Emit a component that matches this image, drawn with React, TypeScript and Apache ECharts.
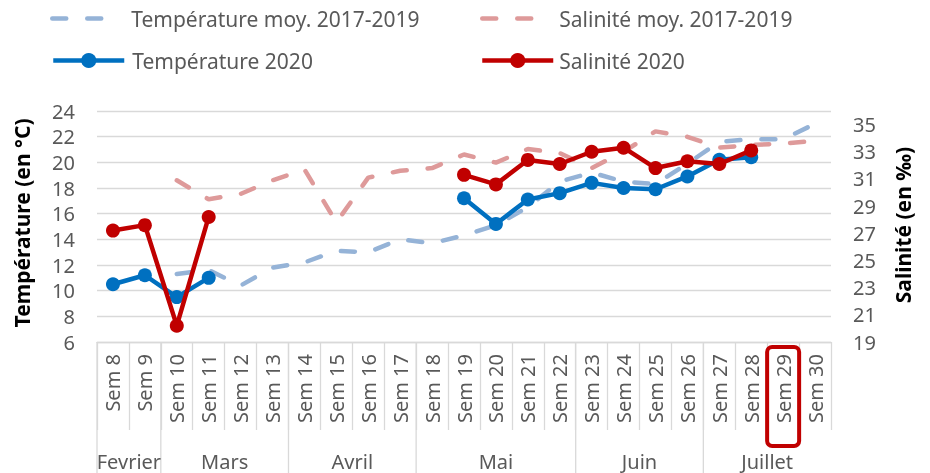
import { useEffect, useRef } from 'react';
import * as echarts from 'echarts';

const weeks = ['Sem 8', 'Sem 9', 'Sem 10', 'Sem 11', 'Sem 12', 'Sem 13', 'Sem 14', 'Sem 15', 'Sem 16', 'Sem 17', 'Sem 18', 'Sem 19', 'Sem 20', 'Sem 21', 'Sem 22', 'Sem 23', 'Sem 24', 'Sem 25', 'Sem 26', 'Sem 27', 'Sem 28', 'Sem 29', 'Sem 30'];
const monthNames = ['Fevrier', 'Mars', 'Avril', 'Mai', 'Juin', 'Juillet'];
const monthWeekCounts = [2, 4, 4, 5, 4, 4];
const highlightedWeek = 'Sem 29';

const seriesNames = ['Température moy. 2017-2019', 'Salinité moy. 2017-2019', 'Température 2020', 'Salinité 2020'];

const tempMoy = [null, null, 11.3, 11.6, 10.4, 11.8, 12.2, 13.1, 13.0, 14.0, 13.7, 14.3, 15.1, 16.5, 18.5, 19.2, 18.5, 18.3, 19.9, 21.6, 21.8, 21.8, 23.0];
const salMoy = [null, null, 30.9, 29.5, 29.9, 30.9, 31.7, 27.8, 31.1, 31.6, 31.8, 32.8, 32.2, 33.2, 32.9, 31.8, 33.0, 34.5, 34.1, 33.3, 33.5, 33.6, 33.8];
const temp2020 = [10.5, 11.2, 9.5, 11.0, null, null, null, null, null, null, null, 17.2, 15.2, 17.1, 17.6, 18.4, 18.0, 17.9, 18.9, 20.2, 20.4, null, null];
const sal2020 = [27.2, 27.6, 20.2, 28.2, null, null, null, null, null, null, null, 31.3, 30.6, 32.4, 32.1, 33.0, 33.3, 31.8, 32.3, 32.1, 33.1, null, null];

const tempTicks = { min: 6, max: 24, step: 2 };
const salTicks = { min: 19, max: 36, step: 2 };

const FONT = "'Noto Sans', sans-serif";
const GRAY = '#595959';
const GRID = '#d9d9d9';
const C_TMOY = '#95B3D7';
const C_SMOY = '#DE9A9A';
const C_T = '#0070C0';
const C_S = '#C00000';

export default function App() {
  const ref = useRef<HTMLDivElement>(null);
  useEffect(() => {
    if (!ref.current) return;
    const chart = echarts.init(ref.current, null, { renderer: 'svg' });
    const legendBase = {
      selectedMode: false,
      orient: 'horizontal',
      padding: 0,
    };
    const option: any = {
      animation: false,
      textStyle: { fontFamily: FONT },
      grid: { left: 97, right: 99, top: 111, bottom: 131, containLabel: false, outerBoundsMode: 'none' },
      legend: [
        { ...legendBase, data: [seriesNames[0]], left: 50, top: 8, itemWidth: 58, itemHeight: 16,
          lineStyle: { width: 4.5 },
          textStyle: { fontSize: 21, color: GRAY, fontFamily: FONT, padding: [0, 0, 0, 16] } },
        { ...legendBase, data: [seriesNames[1]], left: 480, top: 8, itemWidth: 58, itemHeight: 16,
          lineStyle: { width: 4.5 },
          textStyle: { fontSize: 21, color: GRAY, fontFamily: FONT, padding: [0, 0, 0, 14] } },
        { ...legendBase, data: [seriesNames[2]], left: 51, top: 50, itemWidth: 71, itemHeight: 19,
          lineStyle: { width: 4.5 },
          textStyle: { fontSize: 21, color: GRAY, fontFamily: FONT, padding: [0, 0, 0, 3] } },
        { ...legendBase, data: [seriesNames[3]], left: 480, top: 50, itemWidth: 71, itemHeight: 19,
          lineStyle: { width: 4.5 },
          textStyle: { fontSize: 21, color: GRAY, fontFamily: FONT, padding: [0, 0, 0, 1] } },
      ],
      xAxis: {
        type: 'category',
        data: weeks,
        boundaryGap: true,
        axisLine: { show: true, lineStyle: { color: GRID, width: 1.3 } },
        axisTick: { show: true, interval: 0, length: 88, lineStyle: { color: GRID, width: 1.3 } },
        axisLabel: { interval: 0, rotate: 90, margin: 12, fontSize: 20, color: GRAY, fontFamily: FONT },
        splitLine: { show: false },
      },
      yAxis: [
        {
          type: 'value', position: 'left', min: tempTicks.min, max: tempTicks.max, interval: tempTicks.step,
          axisLine: { show: false }, axisTick: { show: false },
          axisLabel: { margin: 22, fontSize: 20, color: GRAY, fontFamily: FONT },
          splitLine: { show: true, lineStyle: { color: GRID, width: 1.3 } },
        },
        {
          type: 'value', position: 'right', min: salTicks.min, max: salTicks.max, interval: 1,
          axisLine: { show: false }, axisTick: { show: false }, splitLine: { show: false },
          axisLabel: {
            margin: 22, fontSize: 20, color: GRAY, fontFamily: FONT,
            formatter: (v: number) => ((v - salTicks.min) % salTicks.step === 0 && v < salTicks.max ? String(v) : ''),
          },
        },
      ],
      series: [
        {
          name: seriesNames[0], type: 'line', yAxisIndex: 0, data: tempMoy, symbol: 'none', connectNulls: false,
          lineStyle: { color: C_TMOY, width: 4.5, type: [14, 21], cap: 'round' },
          itemStyle: { color: 'transparent', borderColor: 'transparent' }, z: 2,
        },
        {
          name: seriesNames[1], type: 'line', yAxisIndex: 1, data: salMoy, symbol: 'none', connectNulls: false,
          lineStyle: { color: C_SMOY, width: 4.5, type: [14, 21], cap: 'round' },
          itemStyle: { color: 'transparent', borderColor: 'transparent' }, z: 2,
        },
        {
          name: seriesNames[2], type: 'line', yAxisIndex: 0, data: temp2020, symbol: 'circle', symbolSize: 14,
          showSymbol: true, connectNulls: false,
          lineStyle: { color: C_T, width: 4.5 }, itemStyle: { color: C_T }, z: 3,
        },
        {
          name: seriesNames[3], type: 'line', yAxisIndex: 1, data: sal2020, symbol: 'circle', symbolSize: 14,
          showSymbol: true, connectNulls: false,
          lineStyle: { color: C_S, width: 4.5 }, itemStyle: { color: C_S }, z: 4,
        },
      ],
    };
    chart.setOption(option);

    const cx = (w: string) => chart.convertToPixel({ xAxisIndex: 0 }, w) as number;
    const x0 = cx(weeks[0]);
    const bw = cx(weeks[1]) - x0;
    const left = x0 - bw / 2;
    const axisY = chart.convertToPixel({ yAxisIndex: 0 }, tempTicks.min) as number;
    const H = 473;

    const graphics: any[] = [];
    let idx = 0;
    const bounds = [0];
    monthWeekCounts.forEach((c) => { idx += c; bounds.push(idx); });
    bounds.forEach((b) => {
      if (b === weeks.length) return;
      graphics.push({
        type: 'line', silent: true,
        shape: { x1: left + b * bw, y1: axisY, x2: left + b * bw, y2: H },
        style: { stroke: GRID, lineWidth: 1.3 },
      });
    });
    monthNames.forEach((m, i) => {
      const mid = (bounds[i] + bounds[i + 1]) / 2;
      graphics.push({
        type: 'text', silent: true, x: left + mid * bw, y: axisY + 119,
        style: { text: m, fontSize: 20, fontFamily: FONT, fill: GRAY, align: 'center', verticalAlign: 'middle' },
      });
    });
    const hx = cx(highlightedWeek);
    graphics.push({
      type: 'rect', silent: true, z: 10,
      shape: { x: hx - 16, y: axisY + 5, width: 32, height: 99, r: 5 },
      style: { fill: 'none', stroke: C_S, lineWidth: 4 },
    });
    graphics.push({
      type: 'text', silent: true, x: 22, y: 223, rotation: Math.PI / 2,
      style: { text: 'Température (en °C)', fontSize: 21, fontWeight: 'bold', fontFamily: FONT, fill: '#000', align: 'center', verticalAlign: 'middle' },
    });
    graphics.push({
      type: 'text', silent: true, x: 903, y: 225, rotation: Math.PI / 2,
      style: { text: 'Salinité (en ‰)', fontSize: 21, fontWeight: 'bold', fontFamily: FONT, fill: '#000', align: 'center', verticalAlign: 'middle' },
    });
    chart.setOption({ graphic: graphics });

    return () => chart.dispose();
  }, []);
  return <div ref={ref} style={{ position: 'fixed', left: 0, top: 0, width: 930, height: 473 }} />;
}
